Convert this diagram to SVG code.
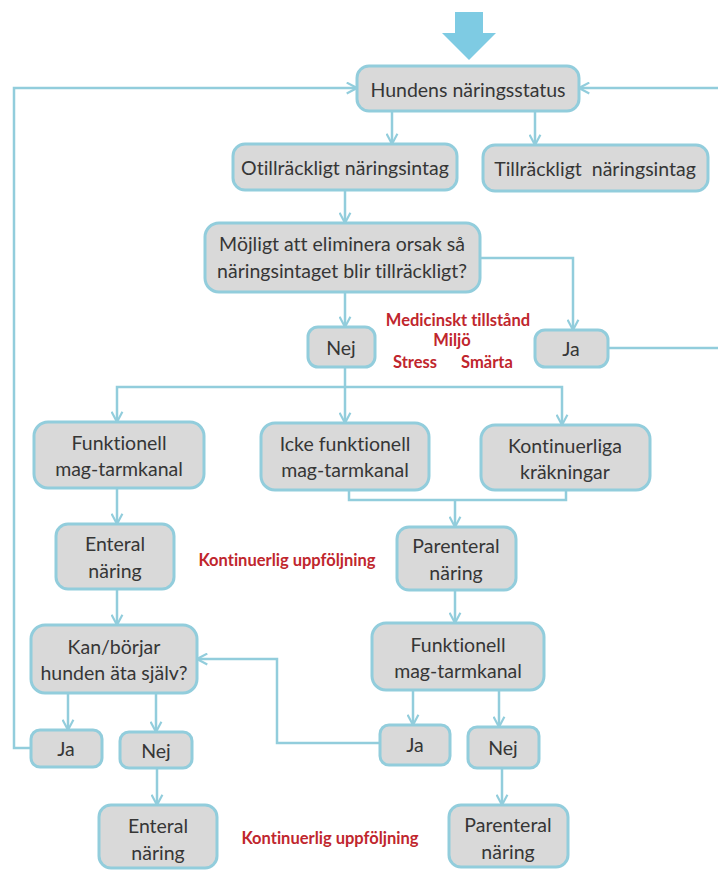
<svg xmlns="http://www.w3.org/2000/svg" width="719" height="871" viewBox="0 0 719 871">
<style>
.box{fill:#d9d9d9;stroke:#92cddc;stroke-width:3}
.t{font-family:Lato,"Open Sans","Liberation Sans",sans-serif;font-size:19.5px;fill:#363636;text-anchor:middle;dominant-baseline:central;font-variant-ligatures:none}
.r{font-family:Lato,"Open Sans","Liberation Sans",sans-serif;font-size:16.5px;font-weight:bold;fill:#c0262d;text-anchor:middle;dominant-baseline:central;font-variant-ligatures:none}
.c{fill:none;stroke:#92cddc;stroke-width:2.5}
</style>
<defs>
<marker id="a" viewBox="0 0 12 12" refX="10.5" refY="6" markerWidth="13" markerHeight="13" markerUnits="userSpaceOnUse" orient="auto">
<path d="M1,1 L10.5,6 L1,11" fill="none" stroke="#92cddc" stroke-width="2"/>
</marker>
</defs>
<rect width="719" height="871" fill="#ffffff"/>
<polygon points="455,12 483,12 483,33 496,33 469,60 442,33 455,33" fill="#7ecbe3"/>
<g id="connectors">
<path class="c" d="M102,748 L14,748 L14,88 L357,88" marker-end="url(#a)"/>
<path class="c" d="M718,88 L579,88" marker-end="url(#a)"/>
<path class="c" d="M392,111 L392,144" marker-end="url(#a)"/>
<path class="c" d="M535,111 L535,145" marker-end="url(#a)"/>
<path class="c" d="M345,190 L345,223" marker-end="url(#a)"/>
<path class="c" d="M480,258 L573,258 L573,330" marker-end="url(#a)"/>
<path class="c" d="M345,292 L345,327" marker-end="url(#a)"/>
<path class="c" d="M608,348 L718,348"/>
<path class="c" d="M345,367 L345,423" marker-end="url(#a)"/>
<path class="c" d="M345,387 L117,387 L117,422" marker-end="url(#a)"/>
<path class="c" d="M345,387 L562,387 L562,425" marker-end="url(#a)"/>
<path class="c" d="M117,488 L117,524" marker-end="url(#a)"/>
<path class="c" d="M349,490 L349,500 L566,500 L566,490"/>
<path class="c" d="M455,500 L455,527" marker-end="url(#a)"/>
<path class="c" d="M117,589 L117,625" marker-end="url(#a)"/>
<path class="c" d="M455,590 L455,623" marker-end="url(#a)"/>
<path class="c" d="M68,693 L68,730" marker-end="url(#a)"/>
<path class="c" d="M156,693 L156,732" marker-end="url(#a)"/>
<path class="c" d="M413,690 L413,725" marker-end="url(#a)"/>
<path class="c" d="M499,690 L499,727" marker-end="url(#a)"/>
<path class="c" d="M380,743 L277,743 L277,659 L197,659" marker-end="url(#a)"/>
<path class="c" d="M157,768 L157,805" marker-end="url(#a)"/>
<path class="c" d="M502,768 L502,805" marker-end="url(#a)"/>
</g>
<g id="n1"><rect class="box" x="357" y="66" width="222" height="45" rx="12"/><text class="t" x="468" y="89">Hundens näringsstatus</text></g>
<g id="n2"><rect class="box" x="233" y="144" width="224" height="46" rx="12"/><text class="t" x="345" y="167">Otillräckligt näringsintag</text></g>
<g id="n3"><rect class="box" x="483" y="145" width="225" height="46" rx="12"/><text class="t" x="595" y="168" xml:space="preserve">Tillräckligt  näringsintag</text></g>
<g id="n4"><rect class="box" x="205" y="223" width="275" height="69" rx="14"/><text class="t" x="342" y="243">Möjligt att eliminera orsak så</text><text class="t" x="342" y="270">näringsintaget blir tillräckligt?</text></g>
<g id="n5"><rect class="box" x="308" y="327" width="67" height="40" rx="10"/><text class="t" x="341" y="347">Nej</text></g>
<g id="n6"><rect class="box" x="535" y="330" width="73" height="37" rx="10"/><text class="t" x="571" y="348">Ja</text></g>
<g id="n7"><rect class="box" x="34" y="422" width="170" height="66" rx="14"/><text class="t" x="119" y="442">Funktionell</text><text class="t" x="119" y="468">mag-tarmkanal</text></g>
<g id="n8"><rect class="box" x="261" y="423" width="168" height="67" rx="14"/><text class="t" x="345" y="443">Icke funktionell</text><text class="t" x="345" y="469">mag-tarmkanal</text></g>
<g id="n9"><rect class="box" x="481" y="425" width="169" height="65" rx="14"/><text class="t" x="565" y="445">Kontinuerliga</text><text class="t" x="565" y="471">kräkningar</text></g>
<g id="n10"><rect class="box" x="56" y="524" width="118" height="65" rx="12"/><text class="t" x="115" y="543">Enteral</text><text class="t" x="115" y="570">näring</text></g>
<g id="n11"><rect class="box" x="397" y="527" width="119" height="63" rx="12"/><text class="t" x="456" y="545">Parenteral</text><text class="t" x="456" y="572">näring</text></g>
<g id="n12"><rect class="box" x="31" y="625" width="166" height="68" rx="14"/><text class="t" x="114" y="646">Kan/börjar</text><text class="t" x="114" y="672">hunden äta själv?</text></g>
<g id="n13"><rect class="box" x="372" y="623" width="172" height="67" rx="14"/><text class="t" x="458" y="644">Funktionell</text><text class="t" x="458" y="670">mag-tarmkanal</text></g>
<g id="n14"><rect class="box" x="31" y="730" width="71" height="37" rx="9"/><text class="t" x="66" y="748">Ja</text></g>
<g id="n15"><rect class="box" x="120" y="732" width="72" height="36" rx="9"/><text class="t" x="156" y="750">Nej</text></g>
<g id="n16"><rect class="box" x="380" y="725" width="70" height="40" rx="9"/><text class="t" x="415" y="744">Ja</text></g>
<g id="n17"><rect class="box" x="468" y="727" width="71" height="41" rx="9"/><text class="t" x="503" y="747">Nej</text></g>
<g id="n18"><rect class="box" x="99" y="805" width="118" height="63" rx="12"/><text class="t" x="158" y="825">Enteral</text><text class="t" x="158" y="852">näring</text></g>
<g id="n19"><rect class="box" x="449" y="805" width="119" height="62" rx="12"/><text class="t" x="508" y="824">Parenteral</text><text class="t" x="508" y="851">näring</text></g>
<g id="labels">
<text class="r" x="458" y="320">Medicinskt tillstånd</text>
<text class="r" x="452" y="340">Miljö</text>
<text class="r" x="415" y="362">Stress</text>
<text class="r" x="487" y="362">Smärta</text>
<text class="r" x="287" y="560">Kontinuerlig uppföljning</text>
<text class="r" x="330" y="838">Kontinuerlig uppföljning</text>
</g>
</svg>
